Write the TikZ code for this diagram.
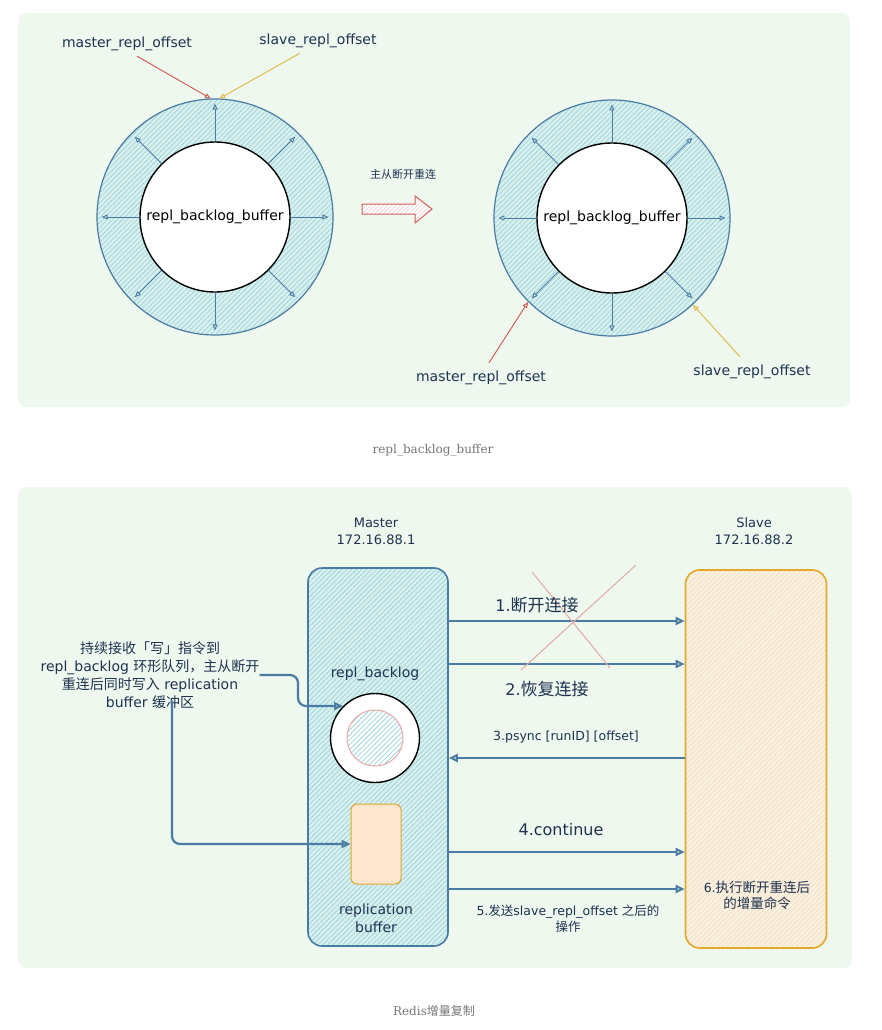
\documentclass[tikz,border=0pt]{standalone}
\usepackage{fontspec}
\setmainfont{DejaVu Sans}
\newfontfamily\capfont{DejaVu Serif}
\newfontfamily\cjk{Noto Sans CJK SC}
\usepackage{tikz}
\usetikzlibrary{arrows.meta,positioning,calc,patterns.meta}
\definecolor{panelgreen}{HTML}{EFF8EE}
\definecolor{inkblue}{HTML}{1E3250}
\definecolor{lineblue}{HTML}{4A7BA3}
\definecolor{hatchcyan}{HTML}{9ED5DA}
\definecolor{ringcyan}{HTML}{DAF0EE}
\definecolor{offred}{HTML}{D0605E}
\definecolor{offyellow}{HTML}{E3BA4E}
\definecolor{slaveorange}{HTML}{E2A829}
\definecolor{hatchpeach}{HTML}{FBDDBB}
\definecolor{slavefill}{HTML}{F7F2E4}
\definecolor{bufpeach}{HTML}{FDE6CD}
\definecolor{capgray}{HTML}{767676}

\begin{document}
\begin{tikzpicture}[x=1pt,y=-1pt,
  txt/.style={text=inkblue,font=\fontsize{14}{18}\selectfont,align=center,inner sep=0pt},
  smalltxt/.style={txt,font=\fontsize{12.5}{16}\selectfont},
  bigtxt/.style={txt,font=\fontsize{16}{20}\selectfont},
  cyanhatch/.style={preaction={fill=ringcyan},pattern={Lines[angle=45,distance=3.5pt,line width=0.8pt]},pattern color=hatchcyan},
  outerring/.style={circle,inner sep=0pt,minimum size=236pt,draw=lineblue,line width=1.2pt,cyanhatch},
  innerring/.style={circle,inner sep=0pt,minimum size=150pt,draw=black,line width=1.4pt,fill=white,font=\fontsize{14}{16}\selectfont},
  spoke/.style={lineblue,line width=0.9pt,shorten >=5pt,-{Triangle[open,length=6pt,width=5pt]}},
  offarrow/.style={line width=1pt,-{Triangle[open,length=6pt,width=5pt]}},
  flow/.style={lineblue,line width=2pt,-{Triangle[open,length=9pt,width=8pt]}},
  caption/.style={text=capgray,font=\capfont\fontsize{12}{16}\selectfont,inner sep=0pt}
]
  \useasboundingbox (0,0) rectangle (882,1030);

  % Panels
  \fill[panelgreen,rounded corners=8] (18,13) rectangle (850,407);
  \fill[panelgreen,rounded corners=8] (18,487) rectangle (852,968);

  % Ring before the reconnect
  \node[outerring] (outerL) at (215,217) {};
  \node[innerring] (innerL) at (215,217) {repl\_backlog\_buffer};
  \foreach \a in {0,45,...,315} {
    \draw[spoke] (innerL.\a) -- (outerL.\a);
  }
  \node[txt] (mlblT) at (127,44) {master\_repl\_offset};
  \node[txt] (slblT) at (318,41) {slave\_repl\_offset};
  \draw[offarrow,offred] ($(mlblT.south)+(10,5)$) -- (outerL.92);
  \draw[offarrow,offyellow] ($(slblT.south)+(-18,5)$) -- (outerL.88);

  % Reconnect arrow
  \node[txt,font=\cjk\fontsize{11}{13}\selectfont] (reconn) at (403,174) {主从断开重连};
  \draw[offred,line width=1pt,preaction={fill=white},pattern={Lines[angle=45,distance=3pt,line width=0.6pt]},pattern color=offred!35]
    (362,204) -- (415,204) -- (415,196) -- (432,209) -- (415,223) -- (415,214) -- (362,214) -- cycle;

  % Ring after the reconnect
  \node[outerring] (outerR) at (612,218) {};
  \node[innerring] (innerR) at (612,218) {repl\_backlog\_buffer};
  \foreach \a in {0,45,...,315} {
    \draw[spoke] (innerR.\a) -- (outerR.\a);
  }
  \node[txt] (mlblB) at (481,378) {master\_repl\_offset};
  \node[txt] (slblB) at (752,372) {slave\_repl\_offset};
  \draw[offarrow,offred] ($(mlblB.north)+(8,-8)$) -- (outerR.225);
  \draw[offarrow,offyellow] ($(slblB.north)+(-12,-8)$) -- (outerR.313);

  \node[caption] (capTop) at (433,450) {repl\_backlog\_buffer};

  % Master and slave
  \node[smalltxt,font=\fontsize{13}{17}\selectfont] (mhead) at (376,531) {Master\\172.16.88.1};
  \node[smalltxt,font=\fontsize{13}{17}\selectfont] (shead) at (754,531) {Slave\\172.16.88.2};
  \node[draw=lineblue,line width=1.6pt,rounded corners=14,cyanhatch,minimum width=140pt,minimum height=378pt] (master) at (378,757) {};
  \node[draw=slaveorange,line width=1.6pt,rounded corners=14,preaction={fill=slavefill},pattern={Lines[angle=45,distance=3.5pt,line width=0.8pt]},pattern color=hatchpeach,minimum width=141pt,minimum height=378pt] (slave) at (756,759) {};

  % Inside the master
  \node[txt] (rblbl) at (375,674) {repl\_backlog};
  \node[circle,inner sep=0pt,minimum size=89pt,draw=black,line width=1.4pt,fill=white] (rbout) at (375,738) {};
  \node[circle,inner sep=0pt,minimum size=56pt,draw=offred!55,line width=1pt,preaction={fill=white},pattern={Lines[angle=45,distance=3.5pt,line width=0.8pt]},pattern color=hatchcyan] (rbin) at (rbout.center) {};
  \node[draw=slaveorange,line width=1pt,fill=bufpeach,rounded corners=6,minimum width=50pt,minimum height=80pt] (rbuf) at (376,844) {};
  \node[txt] (rblbl2) at (376,918) {replication\\buffer};

  % Writes kept during the break
  \node[txt] (note) at (150,675) {{\cjk 持续接收「写」指令到}\\repl\_backlog {\cjk 环形队列，主从断开}\\{\cjk 重连后同时写入} replication\\buffer {\cjk 缓冲区}};
  \draw[flow,line width=2.2pt,rounded corners=8] (note.east) -| ($(rbout.135)+(-45,0)$) -- (rbout.135);
  \draw[flow,line width=2.2pt,rounded corners=8] ($(note.south)+(22,-8)$) |- (rbuf.west);

  % Steps between master and slave
  \foreach \y in {621,664,852,889} {
    \draw[flow] (master.east |- 0,\y) -- (slave.west |- 0,\y);
  }
  \draw[flow] (slave.west |- 0,758) -- (master.east |- 0,758);
  \draw[offred!55,line width=1pt] (532,572) -- (610,668);
  \draw[offred!55,line width=1pt] (636,565) -- (521,670);

  \node[bigtxt] (s1) at (537,605) {1.{\cjk\fontsize{17}{20}\selectfont 断开连接}};
  \node[bigtxt] (s2) at (547,689) {2.{\cjk\fontsize{17}{20}\selectfont 恢复连接}};
  \node[smalltxt] (s3) at (566,737) {3.psync [runID] [offset]};
  \node[bigtxt] (s4) at (561,830) {4.continue};
  \node[smalltxt] (s5) at (568,919) {5.{\cjk 发送}slave\_repl\_offset {\cjk 之后的}\\{\cjk 操作}};
  \node[smalltxt] (s6) at (757,895) {6.{\cjk\fontsize{13.5}{16}\selectfont 执行断开重连后}\\{\cjk\fontsize{13.5}{16}\selectfont 的增量命令}};

  \node[caption] (capBot) at (434,1011) {Redis{\cjk 增量复制}};
\end{tikzpicture}
\end{document}
